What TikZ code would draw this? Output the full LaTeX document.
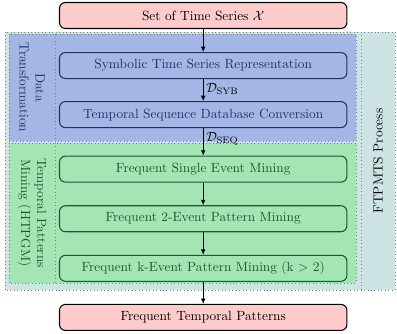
\documentclass[tikz,border=0pt]{standalone}
\usepackage{amsmath}
\usetikzlibrary{positioning,arrows.meta}
\definecolor{iofill}{RGB}{255,204,204}
\definecolor{dtfill}{RGB}{164,182,230}
\definecolor{dtline}{RGB}{30,52,100}
\definecolor{pmfill}{RGB}{163,230,180}
\definecolor{pmline}{RGB}{34,84,48}
\definecolor{procfill}{RGB}{206,228,228}
\tikzset{
  iobox/.style={draw=black, fill=iofill, rounded corners=4.5pt, line width=0.8pt,
    minimum width=215.6pt, minimum height=19.5pt, inner sep=0pt},
  dtbox/.style={iobox, draw=dtline, fill=none, text=dtline},
  pmbox/.style={iobox, draw=pmline, fill=none, text=pmline},
  region/.style={draw=gray, dotted, line width=0.6pt},
  flow/.style={-{Latex[length=4pt,width=3.5pt]}, line width=0.6pt},
}
\begin{document}
\begin{tikzpicture}
    \useasboundingbox (0,0) rectangle (297.75pt,-249.75pt);

    % process and stage areas
    \fill [procfill] (3.75pt,-24pt) rectangle (296.25pt,-217.5pt);
    \draw [region] (3.75pt,-24pt) rectangle (296.25pt,-217.5pt);
    \draw [region] (270.75pt,-24pt) -- (270.75pt,-217.5pt);
    \fill [dtfill] (6.75pt,-25.5pt) rectangle (267pt,-105.75pt);
    \draw [region] (6.75pt,-25.5pt) rectangle (267pt,-105.75pt);
    \draw [region] (41.25pt,-25.5pt) -- (41.25pt,-105.75pt);
    \fill [pmfill] (6.75pt,-107.25pt) rectangle (267pt,-212.25pt);
    \draw [region] (6.75pt,-107.25pt) rectangle (267pt,-212.25pt);
    \draw [region] (41.25pt,-107.25pt) -- (41.25pt,-212.25pt);

    \node [rotate=-90, align=center, text=dtline] (dtlabel) at (24pt,-65.6pt) {Data\\Transformation};
    \node [rotate=-90, align=center, text=pmline] (pmlabel) at (24pt,-159.75pt) {Temporal Patterns\\Mining (HTPGM)};
    \node [rotate=90] (proclabel) at (283.5pt,-120.75pt) {FTPMTS Process};

    % stages
    \node [iobox] (series) at (152.4pt,-11.6pt) {Set of Time Series $\mathcal{X}$};
    \node [dtbox, below=17.25pt of series] (symbolic) {Symbolic Time Series Representation};
    \node [dtbox, below=16.5pt of symbolic] (seqdb) {Temporal Sequence Database Conversion};
    \node [pmbox, below=20.6pt of seqdb] (single) {Frequent Single Event Mining};
    \node [pmbox, below=16.9pt of single] (twoevent) {Frequent 2-Event Pattern Mining};
    \node [pmbox, below=16.9pt of twoevent] (kevent) {Frequent k-Event Pattern Mining (k $>$ 2)};
    \node [iobox, below=16.5pt of kevent] (patterns) {Frequent Temporal Patterns};

    \draw [flow] (series) -- (symbolic);
    \draw [flow] (symbolic) -- node [right, pos=0.45, inner sep=2pt] {$\mathcal{D}_{\text{SYB}}$} (seqdb);
    \draw [flow] (seqdb) -- node [right, pos=0.4, inner sep=2pt] {$\mathcal{D}_{\text{SEQ}}$} (single);
    \draw [flow] (single) -- (twoevent);
    \draw [flow] (twoevent) -- (kevent);
    \draw [flow] (kevent) -- (patterns);
\end{tikzpicture}
\end{document}
